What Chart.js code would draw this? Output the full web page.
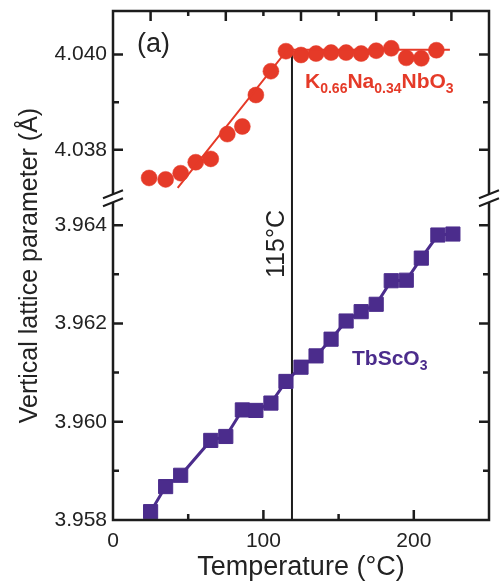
<!DOCTYPE html>
<html>
<head>
<meta charset="utf-8">
<script src="https://cdn.jsdelivr.net/npm/chart.js@4.4.1/dist/chart.umd.min.js"></script>
<style>
  html, body { margin: 0; padding: 0; background: #fff; }
</style>
</head>
<body>
<canvas id="latticeChart" width="503" height="588"></canvas>
<script>
// K0.66Na0.34NbO3 film (upper panel)
const knnTemp = [24, 35, 45, 55, 65, 76, 86, 95, 105, 115, 125, 135, 145, 155, 165, 175, 185, 195, 205, 215];
const knnLattice = [4.03741, 4.03738, 4.03751, 4.03774, 4.03781, 4.03833, 4.03849, 4.03915, 4.03965, 4.04007,
                    4.03999, 4.04002, 4.04004, 4.04004, 4.04002, 4.04008, 4.04013, 4.03993, 4.03992, 4.04009];
// straight-line guide through the KNN points
const knnFitTemp = [43, 116, 224];
const knnFitLattice = [4.0372, 4.0401, 4.0401];

// TbScO3 substrate (lower panel)
const tsoTemp = [25, 35, 45, 65, 75, 86, 95, 105, 115, 125, 135, 145, 155, 165, 175, 185, 195, 205, 216, 226];
const tsoLattice = [3.95817, 3.95868, 3.95891, 3.95962, 3.95970, 3.96024, 3.96023, 3.96038, 3.96082, 3.96111,
                    3.96134, 3.96168, 3.96205, 3.96224, 3.96239, 3.96287, 3.96288, 3.96333, 3.96380, 3.96382];

const transitionTemp = 119;
const transitionLabel = '115°C';
const topTickTemps = [25, 50, 75, 100, 125, 150, 175, 200, 225];

const RED = '#e53a28';
const PURPLE = '#4b2c8c';
const INK = '#1c1c1c';
const FONT = '"Liberation Sans", Arial, Helvetica, sans-serif';

function toPoints(xs, ys) {
  return xs.map((t, i) => ({ x: t, y: ys[i] }));
}

function milli(v) { return Math.round(v * 1000); }

function noPad(s) {
  s.paddingTop = 0; s.paddingBottom = 0; s.paddingLeft = 0; s.paddingRight = 0;
}

// frame, inward ticks, axis breaks, transition line and text labels
const decor = {
  id: 'decor',
  beforeDatasetsDraw(chart) {
    const ctx = chart.ctx;
    const x = chart.scales.x, yTop = chart.scales.yTop, yBot = chart.scales.yBot;
    const px = x.getPixelForValue(transitionTemp);
    ctx.save();
    ctx.strokeStyle = INK;
    ctx.lineWidth = 2;
    ctx.beginPath();
    ctx.moveTo(px, yTop.getPixelForValue(4.0400));
    ctx.lineTo(px, yBot.getPixelForValue(yBot.min));
    ctx.stroke();
    ctx.restore();
  },
  afterDraw(chart) {
    const ctx = chart.ctx;
    const a = chart.chartArea;
    const x = chart.scales.x, yTop = chart.scales.yTop, yBot = chart.scales.yBot;
    ctx.save();
    ctx.strokeStyle = INK;
    ctx.lineWidth = 2.5;
    ctx.strokeRect(a.left, a.top, a.right - a.left, a.bottom - a.top);

    // ticks on x (bottom every 50, top every 25)
    ctx.lineWidth = 2.5;
    ctx.beginPath();
    x.ticks.forEach(t => {
      if (t.value <= x.min || t.value >= x.max) return;
      const p = x.getPixelForValue(t.value);
      const len = t.value % 100 === 0 ? 10 : 6;
      ctx.moveTo(p, a.bottom); ctx.lineTo(p, a.bottom - len);
    });
    topTickTemps.forEach(v => {
      const p = x.getPixelForValue(v);
      const len = (v / 25) % 2 === 1 ? 10 : 5;
      ctx.moveTo(p, a.top); ctx.lineTo(p, a.top + len);
    });
    // ticks on both y scales, mirrored left and right
    [yTop, yBot].forEach(s => {
      s.ticks.forEach(t => {
        const m = milli(t.value);
        if (Math.abs(t.value * 1000 - m) > 1e-6) return;
        const p = s.getPixelForValue(t.value);
        if (p < s.top + 3 || p > s.bottom - 3) return;
        const len = m % 2 === 0 ? 10 : 6;
        ctx.moveTo(a.left, p); ctx.lineTo(a.left + len, p);
        ctx.moveTo(a.right, p); ctx.lineTo(a.right - len, p);
      });
    });
    ctx.stroke();

    // axis breaks
    const yb = yTop.bottom;
    [a.left, a.right].forEach(ax => {
      ctx.fillStyle = '#fff';
      ctx.fillRect(ax - 3, yb - 4, 6, 8);
      ctx.strokeStyle = INK;
      ctx.lineWidth = 2;
      ctx.beginPath();
      [-4, 4].forEach(d => {
        ctx.moveTo(ax - 10, yb + d + 4);
        ctx.lineTo(ax + 10, yb + d - 4);
      });
      ctx.stroke();
    });

    // texts
    ctx.fillStyle = '#222';
    ctx.textBaseline = 'middle';
    ctx.textAlign = 'left';
    ctx.font = '27px ' + FONT;
    ctx.fillText('(a)', a.left + 24, 45);

    ctx.textAlign = 'center';
    ctx.fillText('Temperature (°C)', (a.left + a.right) / 2, 568);

    ctx.save();
    ctx.translate(30, (a.top + a.bottom) / 2);
    ctx.rotate(-Math.PI / 2);
    ctx.font = '25px ' + FONT;
    ctx.fillText('Vertical lattice parameter (Å)', 0, 0);
    ctx.restore();

    ctx.save();
    ctx.translate(x.getPixelForValue(transitionTemp) - 15, 244);
    ctx.rotate(-Math.PI / 2);
    ctx.font = '25px ' + FONT;
    ctx.fillText(transitionLabel, 0, 0);
    ctx.restore();

    // chemical formulas with subscripts
    drawFormula(ctx, [['K', 0], ['0.66', 1], ['Na', 0], ['0.34', 1], ['NbO', 0], ['3', 1]], 305, 88, RED);
    drawFormula(ctx, [['TbScO', 0], ['3', 1]], 352, 365, PURPLE);
    ctx.restore();
  }
};

function drawFormula(ctx, parts, x0, base, color) {
  ctx.save();
  ctx.fillStyle = color;
  ctx.textAlign = 'left';
  ctx.textBaseline = 'alphabetic';
  let cx = x0;
  parts.forEach(([txt, sub]) => {
    ctx.font = 'bold ' + (sub ? 14 : 21) + 'px ' + FONT;
    ctx.fillText(txt, cx, sub ? base + 5 : base);
    cx += ctx.measureText(txt).width;
  });
  ctx.restore();
}

const yTickOpts = {
  stepSize: 0.001,
  includeBounds: false,
  autoSkip: false,
  padding: 6,
  color: '#222',
  font: { size: 21, family: FONT },
  callback: v => (milli(v) % 2 === 0 ? v.toFixed(3) : '')
};

new Chart(document.getElementById('latticeChart'), {
  type: 'scatter',
  data: {
    datasets: [
      {
        label: 'TbScO3',
        data: toPoints(tsoTemp, tsoLattice),
        yAxisID: 'yBot',
        showLine: true,
        borderColor: PURPLE,
        borderWidth: 3,
        pointStyle: 'rect',
        pointRadius: 10,
        pointBorderWidth: 1,
        pointBackgroundColor: PURPLE,
        pointBorderColor: PURPLE
      },
      {
        label: 'KNN fit',
        data: toPoints(knnFitTemp, knnFitLattice),
        yAxisID: 'yTop',
        showLine: true,
        borderColor: RED,
        borderWidth: 2,
        pointRadius: 0
      },
      {
        label: 'K0.66Na0.34NbO3',
        data: toPoints(knnTemp, knnLattice),
        yAxisID: 'yTop',
        showLine: false,
        pointStyle: 'circle',
        pointRadius: 8,
        pointBorderWidth: 0.5,
        pointBackgroundColor: RED,
        pointBorderColor: RED
      }
    ]
  },
  options: {
    responsive: false,
    devicePixelRatio: 1,
    animation: false,
    layout: { padding: { top: 9, right: 14, left: 0, bottom: 0 } },
    plugins: { legend: { display: false }, tooltip: { enabled: false } },
    scales: {
      x: {
        type: 'linear',
        position: 'bottom',
        min: 0,
        max: 250,
        grid: { display: false, drawTicks: false },
        border: { display: false },
        ticks: {
          stepSize: 50,
          autoSkip: false,
          maxRotation: 0,
          padding: 9,
          color: '#222',
          font: { size: 21, family: FONT },
          callback: v => (v % 100 === 0 && v < 250 ? String(v) : '')
        },
        afterFit: s => { s.height = 68; noPad(s); }
      },
      yBot: {
        type: 'linear',
        position: 'left',
        stack: 'lattice',
        stackWeight: 323,
        min: 3.958,
        max: 3.964548,
        grid: { display: false, drawTicks: false },
        border: { display: false },
        ticks: yTickOpts,
        afterFit: s => { s.width = 113; noPad(s); }
      },
      yTop: {
        type: 'linear',
        position: 'left',
        stack: 'lattice',
        stackWeight: 188,
        min: 4.036984,
        max: 4.040913,
        grid: { display: false, drawTicks: false },
        border: { display: false },
        ticks: yTickOpts,
        afterFit: s => { s.width = 113; noPad(s); }
      }
    }
  },
  plugins: [decor]
});
</script>
</body>
</html>
